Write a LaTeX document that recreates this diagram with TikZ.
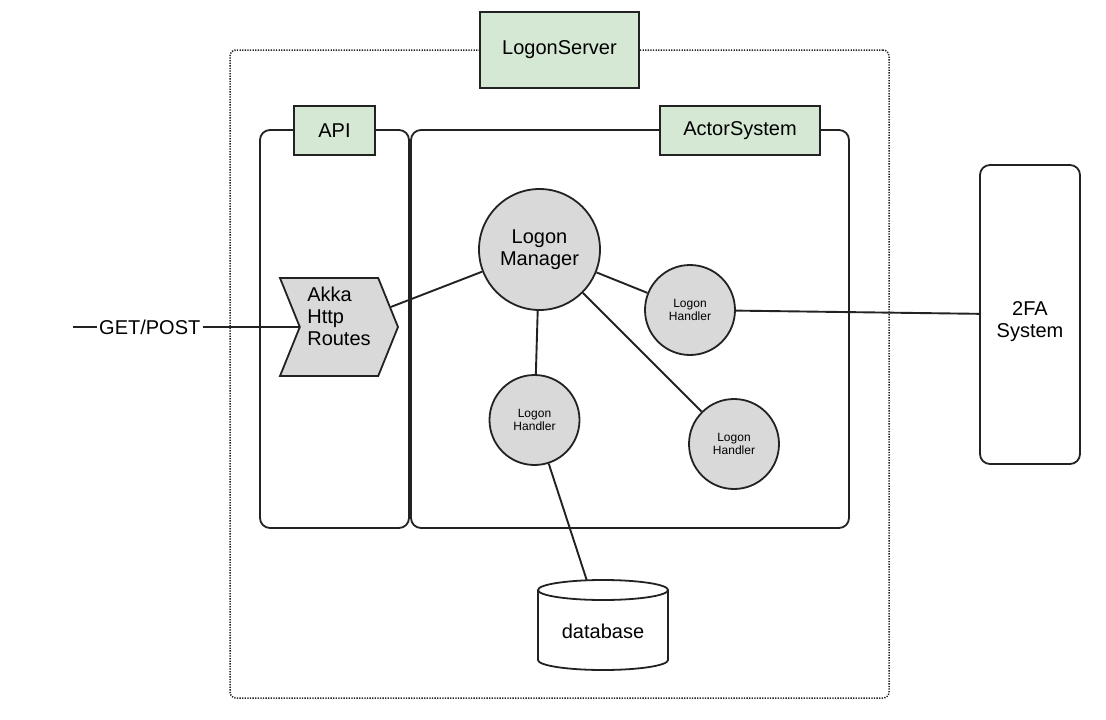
\documentclass[tikz,border=0pt]{standalone}
\usepackage{fontspec}
\setmainfont{Liberation Sans}
\usetikzlibrary{shapes.symbols}
\definecolor{tagfill}{HTML}{D5E8D4}
\definecolor{actorfill}{HTML}{D9D9D9}
\definecolor{edge}{HTML}{222222}

\tikzset{
  bigtext/.style={font=\fontsize{20}{22}\selectfont},
  smalltext/.style={font=\fontsize{12}{13.5}\selectfont},
  outerframe/.style={draw=edge, line width=1.5pt, dash pattern=on 1.3pt off 1.3pt, rounded corners=6pt},
  container/.style={draw=edge, line width=1.8pt, rounded corners=10pt},
  tagbox/.style={draw=edge, line width=1.8pt, fill=tagfill, bigtext},
  manager/.style={circle, draw=edge, line width=1.8pt, fill=actorfill, minimum size=121pt, align=center, bigtext},
  handler/.style={circle, draw=edge, line width=1.8pt, fill=actorfill, minimum size=90pt, align=center, smalltext},
  link/.style={draw=edge, line width=1.9pt}
}

\begin{document}
\begin{tikzpicture}[x=1pt, y=-1pt]
  \useasboundingbox (0,0) rectangle (1106,720);

  \node[outerframe, minimum width=659pt, minimum height=648pt] (server) at (559.5,374) {};
  \node[container, minimum width=149pt, minimum height=398pt] (apibox) at (334.5,329) {};
  \node[container, minimum width=438pt, minimum height=398pt] (actorbox) at (630,329) {};

  \node[tagbox, minimum width=159pt, minimum height=76pt] (servertag) at (559.5,50) {LogonServer};
  \node[tagbox, minimum width=81pt, minimum height=49pt] (apitag) at (334.5,130.5) {API};
  \node[tagbox, minimum width=160pt, minimum height=49pt] (actortag) at (740,130.5) {ActorSystem};

  \node[container, minimum width=100pt, minimum height=299pt, align=center, text height=50pt, text depth=4pt, bigtext] (tfa) at (1030,314.5) {2FA\\System};

  \node[signal, signal from=west, signal to=east, signal pointer angle=136,
        draw=edge, line width=1.8pt, fill=actorfill, minimum width=118pt, minimum height=98pt,
        align=left, text depth=22pt, bigtext] (routes) at (339,327) {Akka\\Http\\Routes};

  \node[manager] (lm) at (539.5,249.5) {Logon\\Manager};
  \node[handler] (h1) at (690,310) {Logon\\Handler};
  \node[handler] (h2) at (534.5,420) {Logon\\Handler};
  \node[handler] (h3) at (734,444) {Logon\\Handler};

  \draw[edge, line width=1.8pt, fill=white] (538,590) -- (538,660)
    arc[start angle=180, end angle=0, x radius=65, y radius=10] -- (668,590);
  \draw[edge, line width=1.8pt, fill=white] (603,590) ellipse [x radius=65, y radius=10];
  \node[bigtext] (db) at (603,631) {database};
  \coordinate (dbtop) at (586.8,580.3);

  \coordinate (getin) at (73,327);

  \draw[link] (getin) -- node[pos=0.34, fill=white, inner sep=2.5pt, bigtext] {GET/POST} (routes);
  \draw[link] (routes) -- (lm);
  \draw[link] (lm) -- (h1);
  \draw[link] (lm) -- (h2);
  \draw[link] (lm) -- (h3);
  \draw[link] (h1) -- (tfa);
  \draw[link] (h2) -- (dbtop);
\end{tikzpicture}
\end{document}
